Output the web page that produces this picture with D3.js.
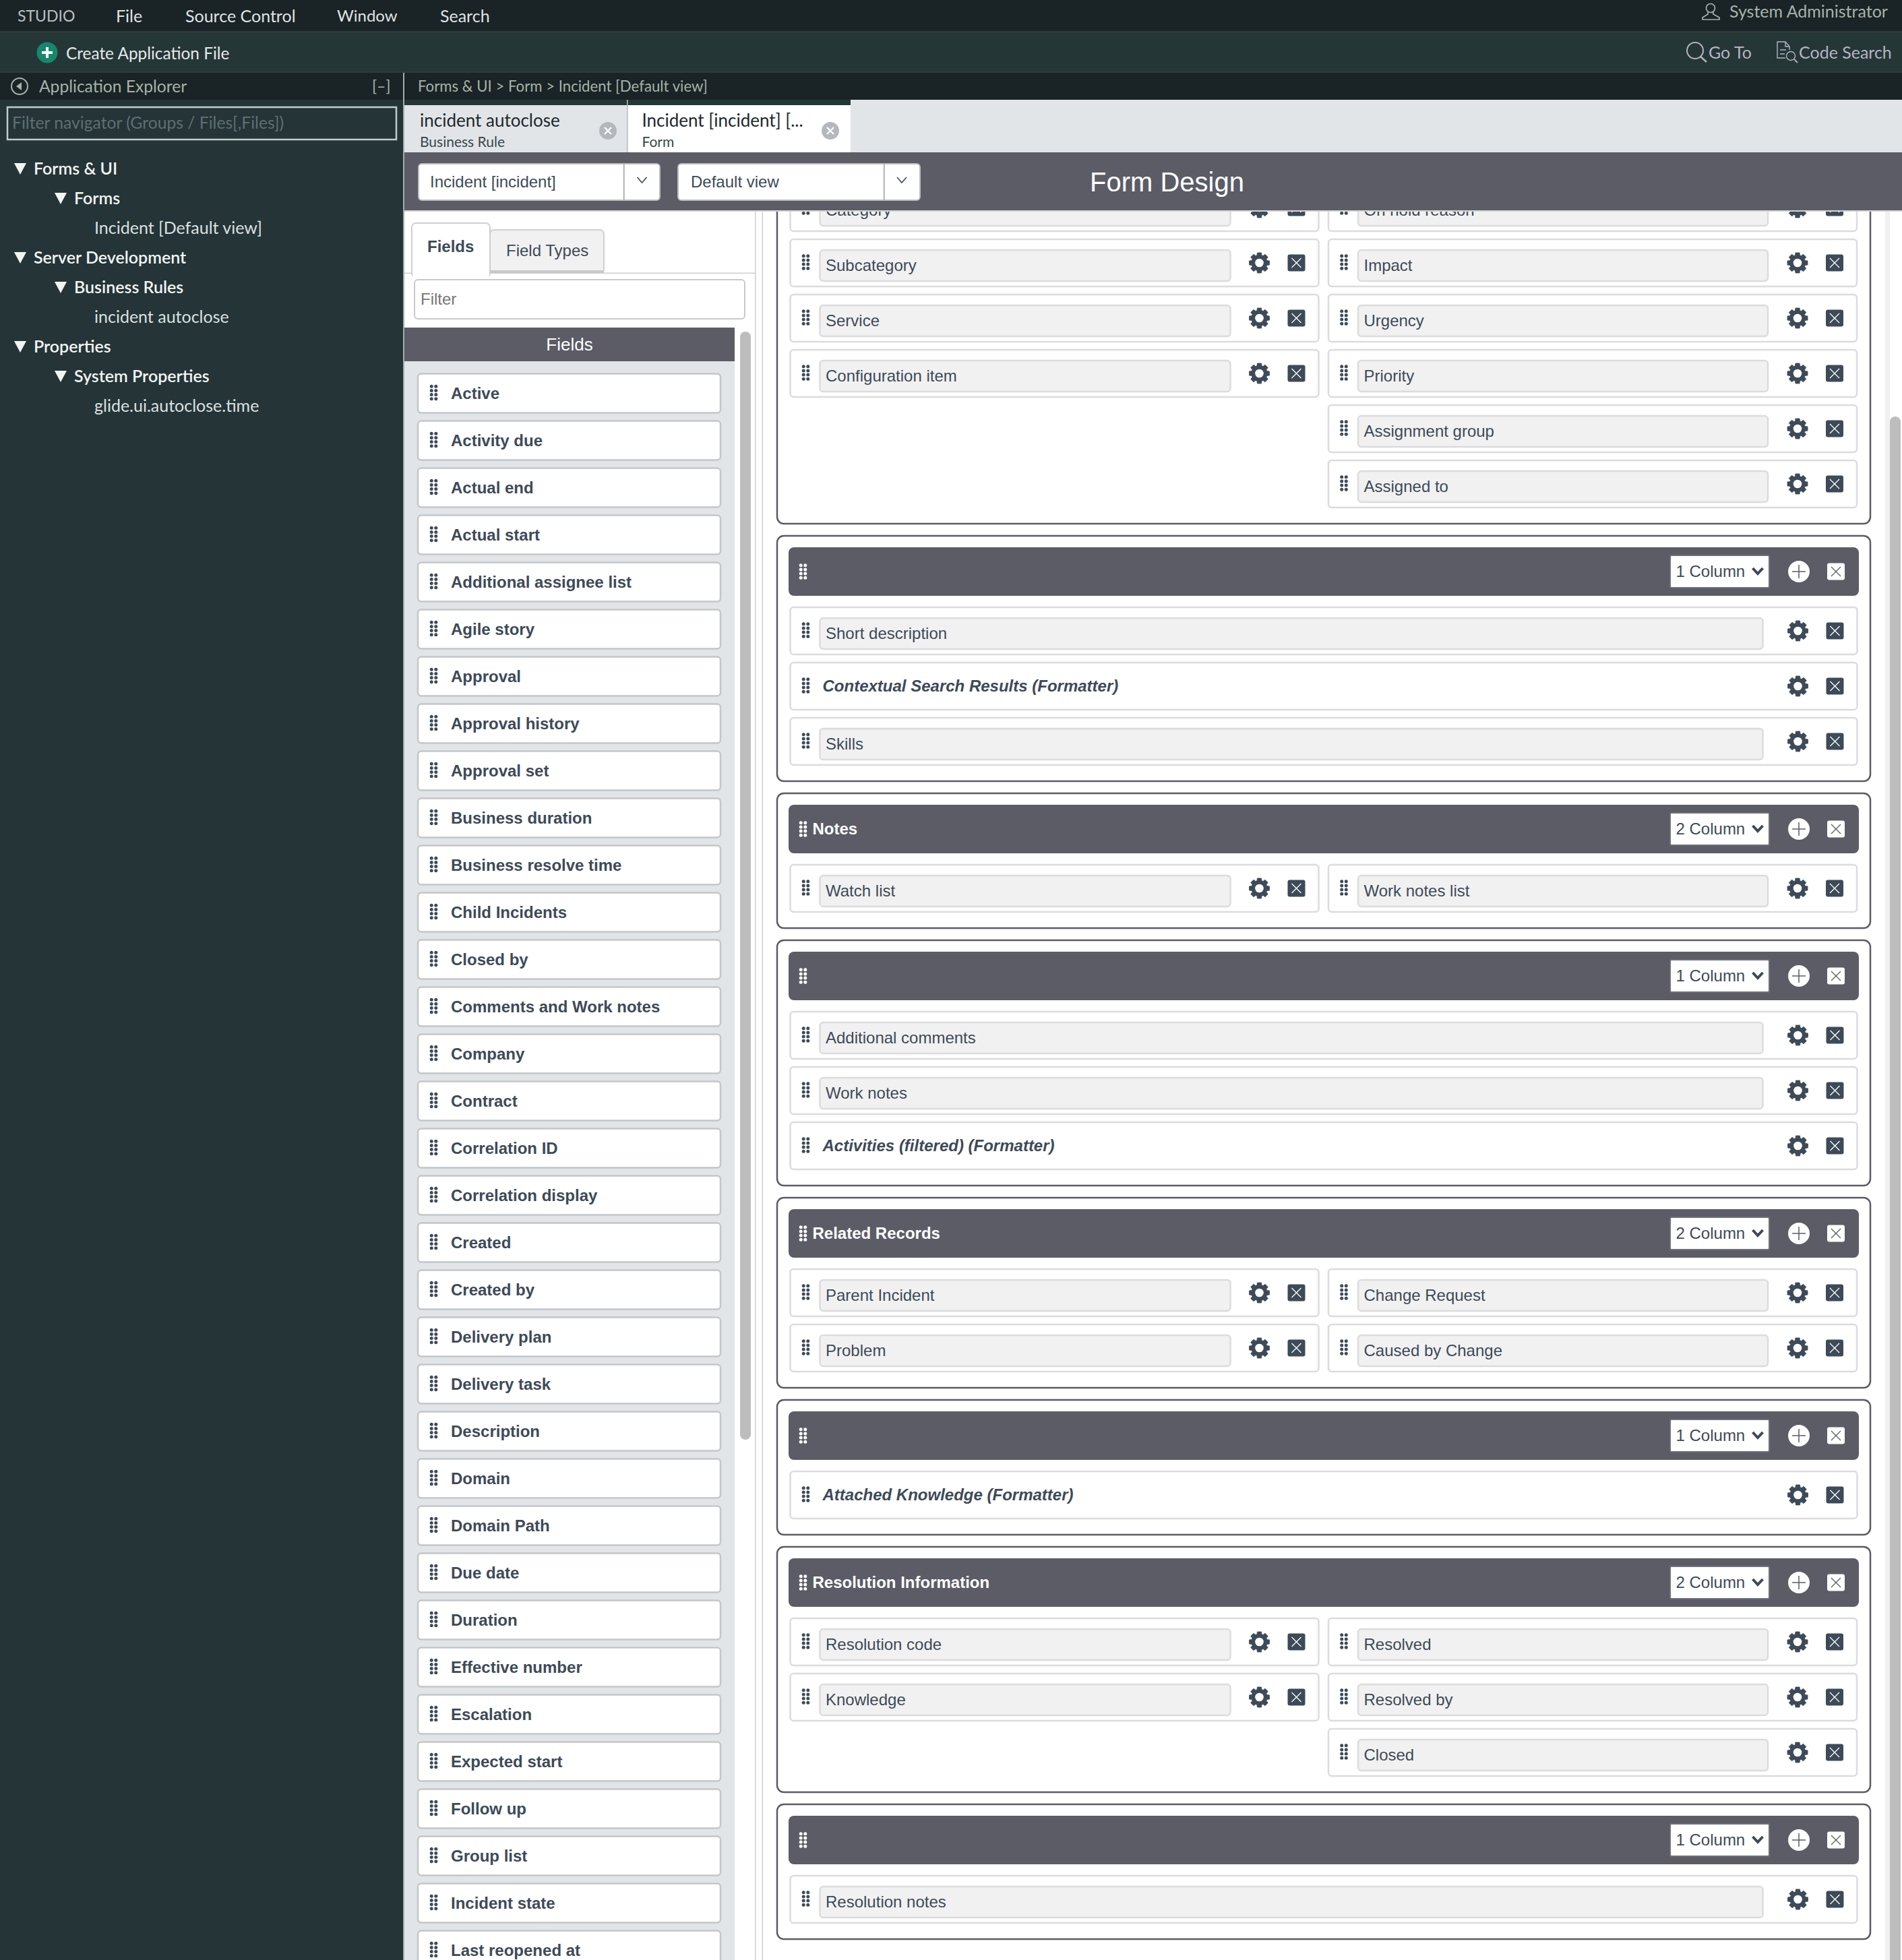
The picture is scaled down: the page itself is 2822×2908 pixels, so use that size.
<!DOCTYPE html>
<html lang="en">
  <head>
    <meta charset="utf-8">
    <title>Form Design</title>
    <script src="https://cdnjs.cloudflare.com/ajax/libs/d3/7.8.5/d3.min.js"></script>
    <style>
      html, body { margin: 0; padding: 0; background: #fff; }
      svg { display: block; }
      .ui { font-family: Lato, "Noto Sans", sans-serif; }
      .form { font-family: "Liberation Sans", Arial, sans-serif; }
    </style>
  </head>
  <body>
    <svg id="svg" width="2822" height="2908"></svg>

    <script type="text/javascript">

        // ---------------------------------------------------- data
        var menuItems = ["STUDIO", "File", "Source Control", "Window", "Search"];
        var menuX = [26, 172, 275, 500, 653];
        var menuSize = [23, 25, 25, 24, 25];

        var treeLabels = ["Forms & UI", "Forms", "Incident [Default view]", "Server Development", "Business Rules",
                          "incident autoclose", "Properties", "System Properties", "glide.ui.autoclose.time"];
        var treeDepths = [0, 1, 2, 0, 1, 2, 0, 1, 2];

        var tabTitles = ["incident autoclose", "Incident [incident] [..."];
        var tabKinds = ["Business Rule", "Form"];

        var fieldNames = ["Active", "Activity due", "Actual end", "Actual start", "Additional assignee list",
                          "Agile story", "Approval", "Approval history", "Approval set", "Business duration",
                          "Business resolve time", "Child Incidents", "Closed by", "Comments and Work notes",
                          "Company", "Contract", "Correlation ID", "Correlation display", "Created", "Created by",
                          "Delivery plan", "Delivery task", "Description", "Domain", "Domain Path", "Due date",
                          "Duration", "Effective number", "Escalation", "Expected start", "Follow up", "Group list",
                          "Incident state", "Last reopened at"];

        var sectionTitles = ["", "", "Notes", "", "Related Records", "", "Resolution Information", ""];
        var sectionColumns = [2, 1, 2, 1, 2, 1, 2, 1];
        var sectionRows = [
            [["Category", "On hold reason"], ["Subcategory", "Impact"], ["Service", "Urgency"],
             ["Configuration item", "Priority"], [null, "Assignment group"], [null, "Assigned to"]],
            [["Short description"], ["Contextual Search Results (Formatter)"], ["Skills"]],
            [["Watch list", "Work notes list"]],
            [["Additional comments"], ["Work notes"], ["Activities (filtered) (Formatter)"]],
            [["Parent Incident", "Change Request"], ["Problem", "Caused by Change"]],
            [["Attached Knowledge (Formatter)"]],
            [["Resolution code", "Resolved"], ["Knowledge", "Resolved by"], [null, "Closed"]],
            [["Resolution notes"]]
        ];

        // ---------------------------------------------------- colours
        var DARK = "#1a2326", TEAL = "#253637", SLATE = "#5b5c66", PALE = "#e1e5e8", INK = "#3d4a58";
        var SAGE = "#a5b3a8", LAVENDER = "#b3b5c2";

        var svg = d3.select("svg#svg");

        // - one row of fields is 82 tall, one card in the field list 70
        var rowY = d3.scaleLinear().domain([0, 1]).range([0, 82]);
        var listY = d3.scaleLinear().domain([0, 1]).range([554.5, 624.5]);
        var treeY = d3.scaleLinear().domain([0, 1]).range([250, 294]);
        var treeX = d3.scaleOrdinal().domain([0, 1, 2]).range([50, 110, 140]);

        function box(g, x, y, w, h, fill, stroke, sw, rx) {
            return g.append("rect").attr("x", x).attr("y", y).attr("width", w).attr("height", h)
                .attr("fill", fill).attr("stroke", stroke || "none").attr("stroke-width", sw || 0).attr("rx", rx || 0);
        }

        function label(g, x, y, str, size, fill, cls, weight, style, anchor) {
            return g.append("text").attr("class", cls).attr("x", x).attr("y", y).attr("dy", "0.35em")
                .attr("font-size", size).attr("fill", fill).attr("font-weight", weight || 400)
                .attr("font-style", style || "normal").attr("text-anchor", anchor || "start").text(str);
        }

        function grip(g, cx, cy, fill) {
            d3.range(4).forEach(function(r) {
                [-3.3, 3.3].forEach(function(dx) {
                    g.append("circle").attr("cx", cx + dx).attr("cy", cy + (r - 1.5) * 6.2).attr("r", 2.5).attr("fill", fill);
                });
            });
        }

        function gear(g, cx, cy) {
            // - eight teeth, drawn as a closed radial line with a hole on top
            var pts = [];
            d3.range(8).forEach(function(i) {
                var a = i * Math.PI / 4;
                pts.push([a - 0.3, 11.8], [a - 0.2, 15.3], [a + 0.2, 15.3], [a + 0.3, 11.8]);
            });
            var line = d3.lineRadial().curve(d3.curveLinearClosed);
            g.append("path").attr("transform", "translate(" + cx + "," + cy + ")").attr("d", line(pts))
                .attr("fill", INK).attr("stroke", INK).attr("stroke-width", 0.8).attr("stroke-linejoin", "round");
            g.append("circle").attr("cx", cx).attr("cy", cy).attr("r", 6.3).attr("fill", "#fff");
        }

        function crossBox(g, cx, cy, fill, stroke) {
            box(g, cx - 13, cy - 12.5, 26, 25, fill, null, 0, 3);
            g.append("path").attr("d", "M" + (cx - 7) + " " + (cy - 7) + "L" + (cx + 7) + " " + (cy + 7)
                + "M" + (cx + 7) + " " + (cy - 7) + "L" + (cx - 7) + " " + (cy + 7))
                .attr("stroke", stroke).attr("stroke-width", 1.3).attr("fill", "none");
        }

        function chevron(g, cx, cy, w, h, stroke, sw) {
            g.append("path").attr("d", "M" + (cx - w / 2) + " " + (cy - h / 2) + "L" + cx + " " + (cy + h / 2) + "L" + (cx + w / 2) + " " + (cy - h / 2))
                .attr("fill", "none").attr("stroke", stroke).attr("stroke-width", sw);
        }

        // ---------------------------------------------------- form sections (under the chrome)
        function draw_field_card(g, name, x, w, inputW, y) {
            box(g, x, y, w, 70, "#fff", "#dcdcdc", 2.5, 5);
            grip(g, x + 23, y + 34, INK);
            if (/\(Formatter\)$/.test(name)) {
                label(g, x + 48, y + 35, name, 24, INK, "form", 700, "italic");
            } else {
                box(g, x + 44, y + 16, inputW, 46, "#f1f1f1", "#dcdcdc", 2.5, 5);
                label(g, x + 52.5, y + 39, name, 24, INK, "form");
            }
            gear(g, x + w - 88, y + 35);
            crossBox(g, x + w - 33, y + 35, INK, "#fff");
        }

        function draw_section(g, i, top) {
            var rows = sectionRows[i];
            var h = 118 + rowY(rows.length);
            box(g, 1153, top, 1622, h, "#fff", SLATE, 2.5, 10);

            // - section header bar
            box(g, 1170, top + 17, 1588, 72, SLATE, null, 0, 8);
            grip(g, 1191.5, top + 53, "#fff");
            if (sectionTitles[i]) {
                label(g, 1205.5, top + 53, sectionTitles[i], 24, "#fff", "form", 700);
            }
            box(g, 2478, top + 29, 147, 48, "#fff", "#6e6f78", 2, 2);
            label(g, 2486.5, top + 53, sectionColumns[i] + " Column", 24, INK, "form");
            chevron(g, 2608, top + 52, 15, 8, INK, 4);
            g.append("circle").attr("cx", 2669).attr("cy", top + 53).attr("r", 16).attr("fill", "#fff");
            g.append("path").attr("d", "M2659 " + (top + 53) + "H2679M2669 " + (top + 43) + "V" + (top + 63))
                .attr("stroke", SLATE).attr("stroke-width", 1.5);
            crossBox(g, 2724, top + 53, "#fff", SLATE);

            // - rows
            rows.forEach(function(row, r) {
                var y = top + 106 + rowY(r);
                if (sectionColumns[i] === 1) {
                    draw_field_card(g, row[0], 1172.5, 1583, 1399, y);
                } else {
                    if (row[0]) { draw_field_card(g, row[0], 1172.5, 784, 609, y); }
                    if (row[1]) { draw_field_card(g, row[1], 1971, 784, 608, y); }
                }
            });
        }

        function draw_form() {
            svg.append("clipPath").attr("id", "formclip").append("rect")
                .attr("x", 1131).attr("y", 312).attr("width", 1691).attr("height", 2596);
            var g = svg.append("g").attr("clip-path", "url(#formclip)");
            var top = 167;
            sectionRows.forEach(function(rows, i) {
                draw_section(g, i, top);
                top += 118 + rowY(rows.length) + 18;
            });
            // - form scrollbar
            box(svg, 2797, 312, 7, 2596, "#f0f0f0");
            box(svg, 2804, 618, 16, 2300, "#bdbdbd", null, 0, 8);
        }

        // ---------------------------------------------------- fields panel
        function draw_fields_panel() {
            box(svg, 1120, 312, 1.5, 2596, "#cfcfcf");
            box(svg, 1130.5, 312, 1.5, 2596, "#cfcfcf");
            box(svg, 600, 404.5, 520, 1.5, "#cfcfcf");
            // - tabs
            box(svg, 611, 331, 116, 80, "#fff", "#cfcfcf", 2, 6);
            box(svg, 612.5, 403, 113, 10, "#fff");
            box(svg, 727, 341, 169, 64, "#f1f1f1", "#cfcfcf", 2, 6);
            box(svg, 727, 401, 169, 4, "#c9c9c9");
            label(svg, 634, 366, "Fields", 24, INK, "form", 700);
            label(svg, 751, 372, "Field Types", 24, INK, "form");
            // - filter
            box(svg, 615, 415, 490, 58, "#fff", "#c9c9c9", 2, 5);
            label(svg, 624, 444, "Filter", 24, "#777", "form");
            // - list
            box(svg, 600, 536, 490, 2372, PALE);
            box(svg, 600, 486, 490, 50, SLATE);
            label(svg, 845, 511, "Fields", 26, "#fff", "form", 400, "normal", "middle");
            box(svg, 1098, 492, 16, 1644, "#bdbdbd", null, 0, 8);

            var cards = svg.append("g").selectAll("g").data(fieldNames).join("g");
            cards.each(function(d, i) {
                var g = d3.select(this), y = listY(i);
                box(g, 620, y, 449, 58, "#fff", "#c4c6c8", 2.5, 5);
                grip(g, 643.5, y + 28, INK);
                label(g, 669, y + 29, d, 24, INK, "form", 700);
            });
        }

        // ---------------------------------------------------- dark chrome on top
        function draw_topbars() {
            box(svg, 0, 0, 2822, 46, DARK);
            box(svg, 0, 46, 2822, 3, "#2e3c3e");
            box(svg, 0, 49, 2822, 57, TEAL);
            box(svg, 0, 106, 2822, 2, "#2e3c3e");
            box(svg, 0, 108, 2822, 40, DARK);

            menuItems.forEach(function(d, i) {
                label(svg, menuX[i], 24, d, menuSize[i], i === 0 ? "#b9c0c1" : "#dfe3e4", "ui");
            });

            // - user
            svg.append("circle").attr("cx", 2538).attr("cy", 12).attr("r", 6.5).attr("fill", "none").attr("stroke", SAGE).attr("stroke-width", 1.7);
            svg.append("path").attr("d", "M2534 18V21L2526 26V29H2551V26L2542 21V18").attr("fill", "none").attr("stroke", SAGE).attr("stroke-width", 1.7);
            label(svg, 2566, 17, "System Administrator", 25, SAGE, "ui");

            // - create application file
            svg.append("circle").attr("cx", 70).attr("cy", 78).attr("r", 15.5).attr("fill", "#16866c");
            svg.append("path").attr("d", "M62 78H78M70 70V86").attr("stroke", "#fff").attr("stroke-width", 4);
            label(svg, 98, 79, "Create Application File", 24.4, "#e6e9ea", "ui");

            // - go to / code search
            svg.append("circle").attr("cx", 2515).attr("cy", 75).attr("r", 12).attr("fill", "none").attr("stroke", LAVENDER).attr("stroke-width", 2);
            svg.append("path").attr("d", "M2523 84L2532 92").attr("stroke", LAVENDER).attr("stroke-width", 2.4);
            label(svg, 2535, 78, "Go To", 25, LAVENDER, "ui");
            svg.append("path").attr("d", "M2649 86H2637V62H2649L2655 69V74M2649 62V69H2655M2641 74H2650M2641 80H2648")
                .attr("fill", "none").attr("stroke", LAVENDER).attr("stroke-width", 1.4);
            svg.append("circle").attr("cx", 2657).attr("cy", 83).attr("r", 6.5).attr("fill", "none").attr("stroke", LAVENDER).attr("stroke-width", 1.4);
            svg.append("path").attr("d", "M2662 88L2667 93").attr("stroke", LAVENDER).attr("stroke-width", 1.8);
            label(svg, 2669, 78, "Code Search", 25, LAVENDER, "ui");

            // - breadcrumb
            label(svg, 620, 128, "Forms & UI > Form > Incident [Default view]", 22.2, SAGE, "ui");

            // - tabs
            box(svg, 600, 148, 2222, 78, PALE);
            box(svg, 600, 148, 662, 8, TEAL);
            box(svg, 600, 156, 330, 70, PALE);
            box(svg, 930, 148, 1.5, 78, "#b9bfc3");
            box(svg, 932, 156, 330, 70, "#fff");
            tabTitles.forEach(function(d, i) {
                var x = i === 0 ? 623 : 952.5;
                label(svg, x, 179, d, 26, "#20282c", "ui");
                label(svg, x, 211, tabKinds[i], 21, "#3a454a", "ui");
                var cx = i === 0 ? 902 : 1232;
                svg.append("circle").attr("cx", cx).attr("cy", 194).attr("r", 13).attr("fill", "#b4b8bc");
                svg.append("path").attr("d", "M" + (cx - 5) + " 189L" + (cx + 5) + " 199M" + (cx + 5) + " 189L" + (cx - 5) + " 199")
                    .attr("stroke", "#fff").attr("stroke-width", 2.4);
            });

            // - form design bar
            box(svg, 600, 226, 2222, 86, SLATE);
            box(svg, 600, 312, 2222, 2, "#d4d4d4");
            box(svg, 621, 243, 358, 54, "#fff", "#bdbdbd", 2, 5);
            box(svg, 925, 243, 1.5, 54, "#9c9ca4");
            label(svg, 638, 270, "Incident [incident]", 24, INK, "form");
            chevron(svg, 952.5, 267, 14, 8, INK, 1.6);
            box(svg, 1006, 243, 359, 54, "#fff", "#bdbdbd", 2, 5);
            box(svg, 1311, 243, 1.5, 54, "#9c9ca4");
            label(svg, 1025, 270, "Default view", 24, INK, "form");
            chevron(svg, 1338, 267, 14, 8, INK, 1.6);
            label(svg, 1617, 270, "Form Design", 40, "#fff", "form");
        }

        function draw_explorer() {
            box(svg, 0, 108, 598, 2800, "#243437");
            box(svg, 0, 108, 598, 40, DARK);
            box(svg, 598, 108, 2, 2800, "#a5adad");

            svg.append("circle").attr("cx", 29).attr("cy", 128).attr("r", 12).attr("fill", "none").attr("stroke", SAGE).attr("stroke-width", 2);
            svg.append("path").attr("d", "M32 122L24 128L32 134Z").attr("fill", SAGE);
            label(svg, 58, 128, "Application Explorer", 24.6, SAGE, "ui");
            label(svg, 552, 128, "[\u2013]", 23, SAGE, "ui");

            box(svg, 11, 159, 577, 48, "none", "#c3cccc", 2.5);
            label(svg, 18, 182, "Filter navigator (Groups / Files[,Files])", 24.7, "#5f6f71", "ui");

            treeLabels.forEach(function(d, i) {
                var depth = treeDepths[i], y = treeY(i);
                if (depth < 2) {
                    var x = treeX(depth) - 20;
                    svg.append("path").attr("d", "M" + (x - 9) + " " + (y - 8) + "H" + (x + 9) + "L" + x + " " + (y + 9) + "Z").attr("fill", "#f2f4f4");
                }
                label(svg, treeX(depth), y, d, 25, depth < 2 ? "#f2f4f4" : "#dbe0e0", "ui", depth < 2 ? 600 : 400);
            });
        }

        draw_form();
        draw_fields_panel();
        draw_topbars();
        draw_explorer();
    </script>
  </body>
</html>
